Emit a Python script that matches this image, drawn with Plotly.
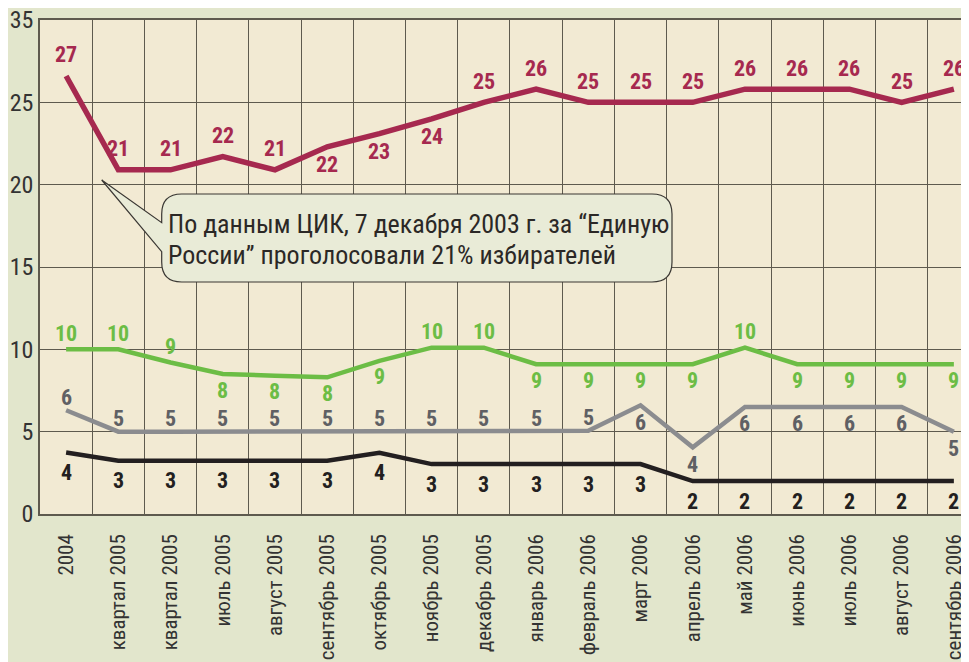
import plotly.graph_objects as go

# ---------------- data ----------------
categories = ["2004", "квартал 2005", "квартал 2005", "июль 2005", "август 2005",
              "сентябрь 2005", "октябрь 2005", "ноябрь 2005", "декабрь 2005",
              "январь 2006", "февраль 2006", "март 2006", "апрель 2006", "май 2006",
              "июнь 2006", "июль 2006", "август 2006", "сентябрь 2006"]

red_values = [26.6, 20.9, 20.9, 21.7, 20.9, 22.3, 23.1, 24.0, 25.0, 25.8, 25.0, 25.0,
              25.0, 25.8, 25.8, 25.8, 25.0, 25.8]
red_labels = [27, 21, 21, 22, 21, 22, 23, 24, 25, 26, 25, 25, 25, 26, 26, 26, 25, 26]
red_side = [1, 1, 1, 1, 1, -1, -1, -1, 1, 1, 1, 1, 1, 1, 1, 1, 1, 1]

green_values = [10.0, 10.0, 9.2, 8.5, 8.4, 8.3, 9.3, 10.1, 10.1, 9.1, 9.1, 9.1, 9.1,
                10.1, 9.1, 9.1, 9.1, 9.1]
green_labels = [10, 10, 9, 8, 8, 8, 9, 10, 10, 9, 9, 9, 9, 10, 9, 9, 9, 9]
green_side = [1, 1, 1, -1, -1, -1, -1, 1, 1, -1, -1, -1, -1, 1, -1, -1, -1, -1]

gray_values = [6.3, 5.0, 5.0, 5.0, 5.0, 5.0, 5.0, 5.0, 5.0, 5.0, 5.05, 6.6, 4.05,
               6.5, 6.5, 6.5, 6.5, 5.0]
gray_labels = [6, 5, 5, 5, 5, 5, 5, 5, 5, 5, 5, 6, 4, 6, 6, 6, 6, 5]
gray_side = [1, 1, 1, 1, 1, 1, 1, 1, 1, 1, 1, -1, -1, -1, -1, -1, -1, -1]

black_values = [3.73, 3.23, 3.23, 3.23, 3.23, 3.23, 3.72, 3.03, 3.03, 3.03, 3.03, 3.03,
                2.0, 2.0, 2.0, 2.0, 2.0, 2.0]
black_labels = [4, 3, 3, 3, 3, 3, 4, 3, 3, 3, 3, 3, 2, 2, 2, 2, 2, 2]
black_side = [-1] * 18

y_tickvals = [0, 5, 10, 15, 20, 25, 30]
y_ticktext = ["0", "5", "10", "15", "20", "25", "35"]

note_lines = ["По данным ЦИК, 7 декабря 2003 г. за “Единую",
              "России” проголосовали 21% избирателей"]

# ---------------- style ----------------
OFF = 8                      # page body margin of the html page
W, H = 969 - OFF, 662 - OFF
L, R, T, B = 40 - OFF, 0, 20 - OFF, 148
NARROW = "Roboto Condensed, Liberation Sans Narrow, Arial Narrow, sans-serif"
OUTER_BG = "#e2e6cc"
PLOT_BG = "#f2ead3"
GRID = "#5e5a4e"

# (values, labels, side, line colour, text colour, width, shift above, shift below)
series = [
    (red_values, red_labels, red_side, "#a6294f", "#a6294f", 5.5, 21, 18),
    (green_values, green_labels, green_side, "#6cbd45", "#6cbd45", 4.5, 16, 16),
    (gray_values, gray_labels, gray_side, "#8b8c8f", "#5f6064", 4.5, 13, 17),
    (black_values, black_labels, black_side, "#231f20", "#231f20", 4.5, 20, 20),
]

x = list(range(len(categories)))
fig = go.Figure()
annotations = []
for vals, labs, side, lc, tc, lw, up, dn in series:
    fig.add_trace(go.Scatter(x=x, y=vals, mode="lines",
                             line=dict(color=lc, width=lw), hoverinfo="skip",
                             showlegend=False))
    for xi, v, lab, s in zip(x, vals, labs, side):
        annotations.append(dict(x=xi, y=v, xref="x", yref="y", text=str(lab),
                                showarrow=False, yshift=(up if s > 0 else -dn),
                                font=dict(family=NARROW, size=22, color=tc, weight="bold"),
                                xanchor="center", yanchor="middle"))

pw = W - L - R
ph = H - T - B


def px(xp):
    # page pixel x -> paper fraction
    return (xp - OFF - L) / pw


def py(yp):
    # page pixel y -> paper fraction
    return (H - B - (yp - OFF)) / ph


# callout bubble (page pixel geometry)
bx0, bx1, by0, by1, r = 161.7, 672, 194, 282, 20
ax_, ay_ = 101.7, 180
t1, t2 = 222.7, 251.7
pts = [
    ("M", bx0, t1), ("L", bx0, by0 + r), ("Q", bx0, by0, bx0 + r, by0),
    ("L", bx1 - r, by0), ("Q", bx1, by0, bx1, by0 + r),
    ("L", bx1, by1 - r), ("Q", bx1, by1, bx1 - r, by1),
    ("L", bx0 + r, by1), ("Q", bx0, by1, bx0, by1 - r),
    ("L", bx0, t2), ("L", ax_, ay_),
]
path = ""
for p in pts:
    cmd = p[0]
    coords = p[1:]
    segs = []
    for i in range(0, len(coords), 2):
        segs.append(f"{px(coords[i]):.5f},{py(coords[i + 1]):.5f}")
    path += cmd + " " + " ".join(segs) + " "
path += "Z"

shapes = [dict(type="path", path=path, xref="paper", yref="paper",
               fillcolor="#e9ebd7", line=dict(color="#3a3733", width=1.2), layer="above")]

for i, line in enumerate(note_lines):
    annotations.append(dict(x=px(166), y=py(224 + 31 * i), xref="paper", yref="paper",
                            text=line, showarrow=False, xanchor="left", yanchor="middle",
                            font=dict(family=NARROW, size=26, color="#2b2826")))

fig.update_layout(
    width=W, height=H,
    margin=dict(l=L, r=R, t=T, b=B, pad=0, autoexpand=False),
    paper_bgcolor=OUTER_BG, plot_bgcolor=PLOT_BG,
    showlegend=False,
    annotations=annotations,
    shapes=shapes,
    xaxis=dict(range=[-0.5, 17.29], tickvals=x, ticktext=categories, tickangle=-90,
               showgrid=False, zeroline=False, automargin=False,
               showline=True, mirror=True, linecolor=GRID, linewidth=1.5,
               ticks="outside", ticklen=10, tickcolor="rgba(0,0,0,0)",
               ticklabeloverflow="allow",
               tickfont=dict(family=NARROW, size=21, color="#333333"),
               minor=dict(tickvals=[i - 0.5 for i in range(1, 18)], showgrid=True,
                          gridcolor=GRID, gridwidth=1.2, ticks="")),
    yaxis=dict(range=[0, 30], tickvals=y_tickvals, ticktext=y_ticktext,
               showgrid=True, gridcolor=GRID, gridwidth=1.2, zeroline=False,
               showline=True, linecolor=GRID, linewidth=1.5, automargin=False,
               ticks="", ticklabeloverflow="allow",
               tickfont=dict(family=NARROW, size=24, color="#333333")),
)

fig.write_html("out.html")
